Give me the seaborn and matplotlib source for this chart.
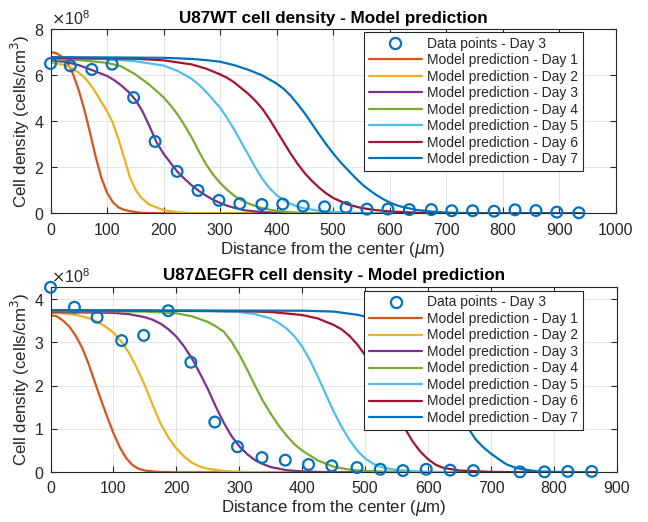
import numpy as np
import pandas as pd
import matplotlib
matplotlib.use("Agg")
import matplotlib.pyplot as plt
import seaborn as sns
from matplotlib.lines import Line2D
from matplotlib.ticker import ScalarFormatter

# =============================================================================
# Data (cell density in units of 1e8 cells/cm^3, distance in um)
# =============================================================================
SCALE = 1e8

# --- U87WT ---
wt_data_x = [0, 35, 73, 109, 147, 185, 224, 261, 298, 335, 374, 411, 447, 485,
             523, 560, 597, 635, 674, 710, 747, 785, 822, 859, 896, 935]
wt_data_y = [6.52, 6.42, 6.26, 6.49, 5.04, 3.13, 1.83, 1.00, 0.57, 0.43, 0.39, 0.41, 0.32, 0.29,
             0.26, 0.19, 0.19, 0.17, 0.17, 0.12, 0.12, 0.10, 0.16, 0.13, 0.06, 0.03]

wt_d1_x = [0, 10, 20, 30, 40, 50, 60, 70, 80, 90, 100, 110, 120, 130, 143, 160, 190, 250, 940]
wt_d1_y = [7.02, 6.97, 6.82, 6.55, 6.05, 5.35, 4.5, 3.5, 2.45, 1.55, 0.9, 0.5, 0.27, 0.16, 0.09,
           0.03, 0.01, 0.0, 0.0]
wt_d2_x = [0, 12.5, 25, 37.5, 50, 62.5, 75, 90, 100, 110, 120, 125, 133, 140, 150, 160, 175,
           200, 225, 250, 300, 940]
wt_d2_y = [6.55, 6.52, 6.45, 6.32, 6.12, 5.85, 5.45, 4.85, 4.45, 3.95, 3.25, 2.85, 2.2, 1.6,
           1.05, 0.7, 0.38, 0.15, 0.05, 0.02, 0.0, 0.0]
wt_d3_x = [0, 25, 50, 75, 100, 112.5, 125, 137.5, 150, 162.5, 175, 187.5, 200, 212.5, 225,
           237.5, 250, 262.5, 275, 287.5, 300, 312.5, 325, 343, 375, 400, 450, 500, 940]
wt_d3_y = [6.66, 6.6, 6.45, 6.22, 5.98, 5.8, 5.57, 5.3, 4.95, 4.45, 3.8, 3.1, 2.6, 2.2, 1.8,
           1.5, 1.22, 0.98, 0.78, 0.6, 0.46, 0.34, 0.25, 0.14, 0.06, 0.03, 0.01, 0.0, 0.0]
wt_d4_x = [0, 50, 100, 125, 150, 175, 200, 212.5, 225, 237.5, 250, 262.5, 275, 287.5, 300,
           312.5, 325, 337.5, 350, 362.5, 375, 400, 425, 450, 500, 940]
wt_d4_y = [6.7, 6.67, 6.55, 6.4, 6.05, 5.6, 5.05, 4.7, 4.3, 3.82, 3.3, 2.7, 2.15, 1.7, 1.33,
           1.03, 0.78, 0.58, 0.44, 0.32, 0.23, 0.11, 0.05, 0.02, 0.0, 0.0]
wt_d5_x = [0, 100, 150, 200, 225, 250, 262.5, 275, 287.5, 300, 312.5, 325, 337.5, 350, 362.5,
           375, 387.5, 400, 412.5, 425, 437.5, 450, 475, 500, 550, 600, 650, 940]
wt_d5_y = [6.75, 6.71, 6.62, 6.43, 6.2, 5.85, 5.6, 5.3, 4.95, 4.6, 4.15, 3.65, 3.1, 2.55, 2.0,
           1.5, 1.1, 0.8, 0.58, 0.42, 0.3, 0.22, 0.12, 0.07, 0.02, 0.01, 0.0, 0.0]
wt_d6_x = [0, 150, 200, 250, 275, 300, 312.5, 325, 337.5, 350, 362.5, 375, 387.5, 400, 412.5,
           425, 437.5, 450, 462.5, 475, 487.5, 500, 525, 550, 575, 600, 650, 700, 750, 940]
wt_d6_y = [6.76, 6.73, 6.66, 6.48, 6.3, 6.05, 5.9, 5.7, 5.45, 5.2, 4.9, 4.55, 4.1, 3.6, 3.1,
           2.6, 2.15, 1.75, 1.42, 1.13, 0.88, 0.68, 0.4, 0.24, 0.15, 0.09, 0.03, 0.01, 0.0, 0.0]
wt_d7_x = [0, 200, 250, 275, 300, 325, 350, 375, 400, 412.5, 425, 437.5, 450, 462.5, 475,
           487.5, 500, 512.5, 525, 537.5, 550, 562.5, 575, 587.5, 600, 612.5, 625, 650, 675,
           700, 750, 800, 940]
wt_d7_y = [6.8, 6.77, 6.72, 6.67, 6.6, 6.45, 6.25, 6.0, 5.65, 5.42, 5.12, 4.75, 4.35, 3.9,
           3.45, 3.02, 2.62, 2.25, 1.92, 1.6, 1.3, 1.05, 0.83, 0.64, 0.48, 0.36, 0.27, 0.15,
           0.08, 0.04, 0.01, 0.0, 0.0]

# --- U87 dEGFR ---
eg_data_x = [0, 38, 74, 113, 148, 187, 223, 261, 297, 336, 373, 410, 447, 487,
             524, 560, 597, 635, 672, 746, 785, 822, 860]
eg_data_y = [4.27, 3.81, 3.58, 3.04, 3.16, 3.73, 2.54, 1.16, 0.59, 0.34, 0.28, 0.18, 0.15, 0.11,
             0.07, 0.04, 0.07, 0.05, 0.04, 0.01, 0.01, 0.02, 0.02]

eg_d1_x = [0, 10, 20, 30, 40, 50, 60, 70, 80, 90, 100, 110, 120, 130, 140, 150, 170, 200, 865]
eg_d1_y = [3.63, 3.6, 3.5, 3.36, 3.15, 2.88, 2.52, 2.1, 1.68, 1.28, 0.9, 0.58, 0.33, 0.17,
           0.08, 0.04, 0.01, 0.0, 0.0]
eg_d2_x = [0, 12.5, 25, 37.5, 50, 62.5, 75, 87.5, 100, 112.5, 125, 137.5, 150, 162.5, 175,
           187.5, 200, 212.5, 225, 237.5, 250, 275, 300, 350, 865]
eg_d2_y = [3.68, 3.675, 3.66, 3.64, 3.6, 3.55, 3.47, 3.36, 3.22, 3.02, 2.75, 2.4, 2.0, 1.55,
           1.12, 0.8, 0.55, 0.36, 0.22, 0.13, 0.08, 0.03, 0.01, 0.0, 0.0]
eg_d3_x = [0, 100, 125, 150, 162.5, 175, 187.5, 200, 212.5, 225, 237.5, 250, 262.5, 275,
           287.5, 300, 312.5, 325, 337.5, 350, 375, 400, 450, 865]
eg_d3_y = [3.7, 3.68, 3.65, 3.58, 3.52, 3.43, 3.3, 3.13, 2.9, 2.62, 2.28, 1.92, 1.52, 1.15,
           0.84, 0.6, 0.42, 0.28, 0.19, 0.12, 0.05, 0.02, 0.0, 0.0]
eg_d4_x = [0, 150, 200, 225, 250, 262.5, 275, 287.5, 300, 312.5, 325, 337.5, 350, 362.5, 375,
           387.5, 400, 425, 450, 475, 500, 550, 600, 865]
eg_d4_y = [3.72, 3.71, 3.67, 3.6, 3.47, 3.37, 3.25, 3.02, 2.72, 2.37, 2.0, 1.65, 1.35, 1.08,
           0.85, 0.65, 0.5, 0.27, 0.13, 0.06, 0.03, 0.01, 0.0, 0.0]
eg_d5_x = [0, 250, 300, 325, 350, 362.5, 375, 387.5, 400, 412.5, 425, 437.5, 450, 462.5, 475,
           487.5, 500, 512.5, 525, 550, 600, 650, 865]
eg_d5_y = [3.73, 3.72, 3.7, 3.65, 3.55, 3.45, 3.32, 3.14, 2.9, 2.58, 2.2, 1.8, 1.4, 1.05, 0.75,
           0.5, 0.32, 0.2, 0.12, 0.05, 0.01, 0.0, 0.0]
eg_d6_x = [0, 300, 350, 400, 425, 450, 462.5, 475, 487.5, 500, 512.5, 525, 537.5, 550, 562.5,
           575, 587.5, 600, 612.5, 625, 650, 700, 750, 865]
eg_d6_y = [3.74, 3.72, 3.7, 3.63, 3.55, 3.4, 3.3, 3.15, 2.95, 2.7, 2.4, 2.07, 1.72, 1.38, 1.03,
           0.72, 0.48, 0.3, 0.17, 0.1, 0.04, 0.01, 0.0, 0.0]
eg_d7_x = [0, 400, 450, 490, 525, 550, 575, 587.5, 600, 612.5, 625, 637.5, 650, 662.5, 675,
           687.5, 700, 712.5, 725, 740, 750, 775, 800, 865]
eg_d7_y = [3.74, 3.73, 3.71, 3.63, 3.5, 3.35, 3.12, 2.95, 2.75, 2.45, 2.1, 1.75, 1.4, 1.05,
           0.77, 0.58, 0.43, 0.3, 0.18, 0.1, 0.07, 0.02, 0.01, 0.0]

day_labels = ["Model prediction - Day %d" % d for d in range(1, 8)]
data_label = "Data points - Day 3"

# matlab default color order
colors = ["#D95319", "#EDB120", "#7E2F8E", "#77AC30", "#4DBEEE", "#A2142F", "#0072BD"]
pt_color = "#0072BD"

# =============================================================================
# Plot
# =============================================================================
sns.set_theme(style="whitegrid")
plt.rcParams["font.family"] = ["Liberation Sans", "DejaVu Sans"]
plt.rcParams["mathtext.fontset"] = "dejavusans"
plt.rcParams["axes.unicode_minus"] = False

fig = plt.figure(figsize=(6.48, 5.22), dpi=100)
ax1 = fig.add_axes([0.078, 0.591, 0.872, 0.3525])
ax2 = fig.add_axes([0.078, 0.0952, 0.874, 0.3544])


def draw_panel(ax, dx, dy, curves, title, xlim, xticks, ylim, yticks, leg_anchor):
    sns.scatterplot(x=np.array(dx), y=np.array(dy) * SCALE, ax=ax, marker="o", s=60,
                    facecolor="none", edgecolor=pt_color, linewidth=1.6, zorder=3,
                    clip_on=False, legend=False)
    for (cx, cy), col in zip(curves, colors):
        sns.lineplot(x=np.array(cx), y=np.array(cy) * SCALE, ax=ax, color=col,
                     linewidth=1.6, sort=True, legend=False, zorder=2)

    ax.set_xlim(*xlim)
    ax.set_ylim(*ylim)
    ax.set_xticks(xticks)
    ax.set_yticks(yticks)
    fmt = ScalarFormatter(useMathText=True)
    fmt.set_powerlimits((8, 8))
    ax.yaxis.set_major_formatter(fmt)
    ax.yaxis.get_offset_text().set_fontsize(11.5)
    ax.yaxis.get_offset_text().set_color("#262626")

    ax.set_facecolor("white")
    ax.grid(True, color="#dfdfdf", linewidth=0.6)
    for sp in ax.spines.values():
        sp.set_color("#262626")
        sp.set_linewidth(0.8)
    ax.tick_params(direction="in", length=4, width=0.8, color="#262626",
                   labelsize=11.5, labelcolor="#262626",
                   top=True, right=True, bottom=True, left=True, pad=4.5)
    ax.tick_params(axis="x", pad=6.5)

    ax.set_title(title, fontsize=12.3, fontweight="bold", color="black", pad=5)
    ax.set_xlabel("Distance from the center ($\\mu$m)", fontsize=12.2, color="#262626", labelpad=1.5)
    ax.set_ylabel("Cell density (cells/cm$^3$)", fontsize=12.2, color="#262626", labelpad=1.5)

    handles = [Line2D([], [], marker="o", linestyle="none", markersize=8,
                      markerfacecolor="none", markeredgecolor=pt_color, markeredgewidth=1.6)]
    handles += [Line2D([], [], color=c, linewidth=1.6) for c in colors]
    leg = ax.legend(handles, [data_label] + day_labels, loc="upper right",
                    bbox_to_anchor=leg_anchor, borderaxespad=0, fontsize=10,
                    frameon=True, fancybox=False, framealpha=1, edgecolor="#262626",
                    labelspacing=0.18, handlelength=3.8, handletextpad=0.35,
                    borderpad=0.35)
    leg.get_frame().set_linewidth(0.8)
    for t in leg.get_texts():
        t.set_color("#262626")


wt_curves = [(wt_d1_x, wt_d1_y), (wt_d2_x, wt_d2_y), (wt_d3_x, wt_d3_y), (wt_d4_x, wt_d4_y),
             (wt_d5_x, wt_d5_y), (wt_d6_x, wt_d6_y), (wt_d7_x, wt_d7_y)]
eg_curves = [(eg_d1_x, eg_d1_y), (eg_d2_x, eg_d2_y), (eg_d3_x, eg_d3_y), (eg_d4_x, eg_d4_y),
             (eg_d5_x, eg_d5_y), (eg_d6_x, eg_d6_y), (eg_d7_x, eg_d7_y)]

draw_panel(ax1, wt_data_x, wt_data_y, wt_curves, "U87WT cell density - Model prediction",
           (0, 1000), range(0, 1001, 100), (0, 8e8), [0, 2e8, 4e8, 6e8, 8e8], (0.9416, 0.987))
draw_panel(ax2, eg_data_x, eg_data_y, eg_curves, "U87\u0394EGFR cell density - Model prediction",
           (0, 900), range(0, 901, 100), (0, 4.27e8), [0, 1e8, 2e8, 3e8, 4e8], (0.940, 0.982))

fig.savefig("out.png", dpi=100)
